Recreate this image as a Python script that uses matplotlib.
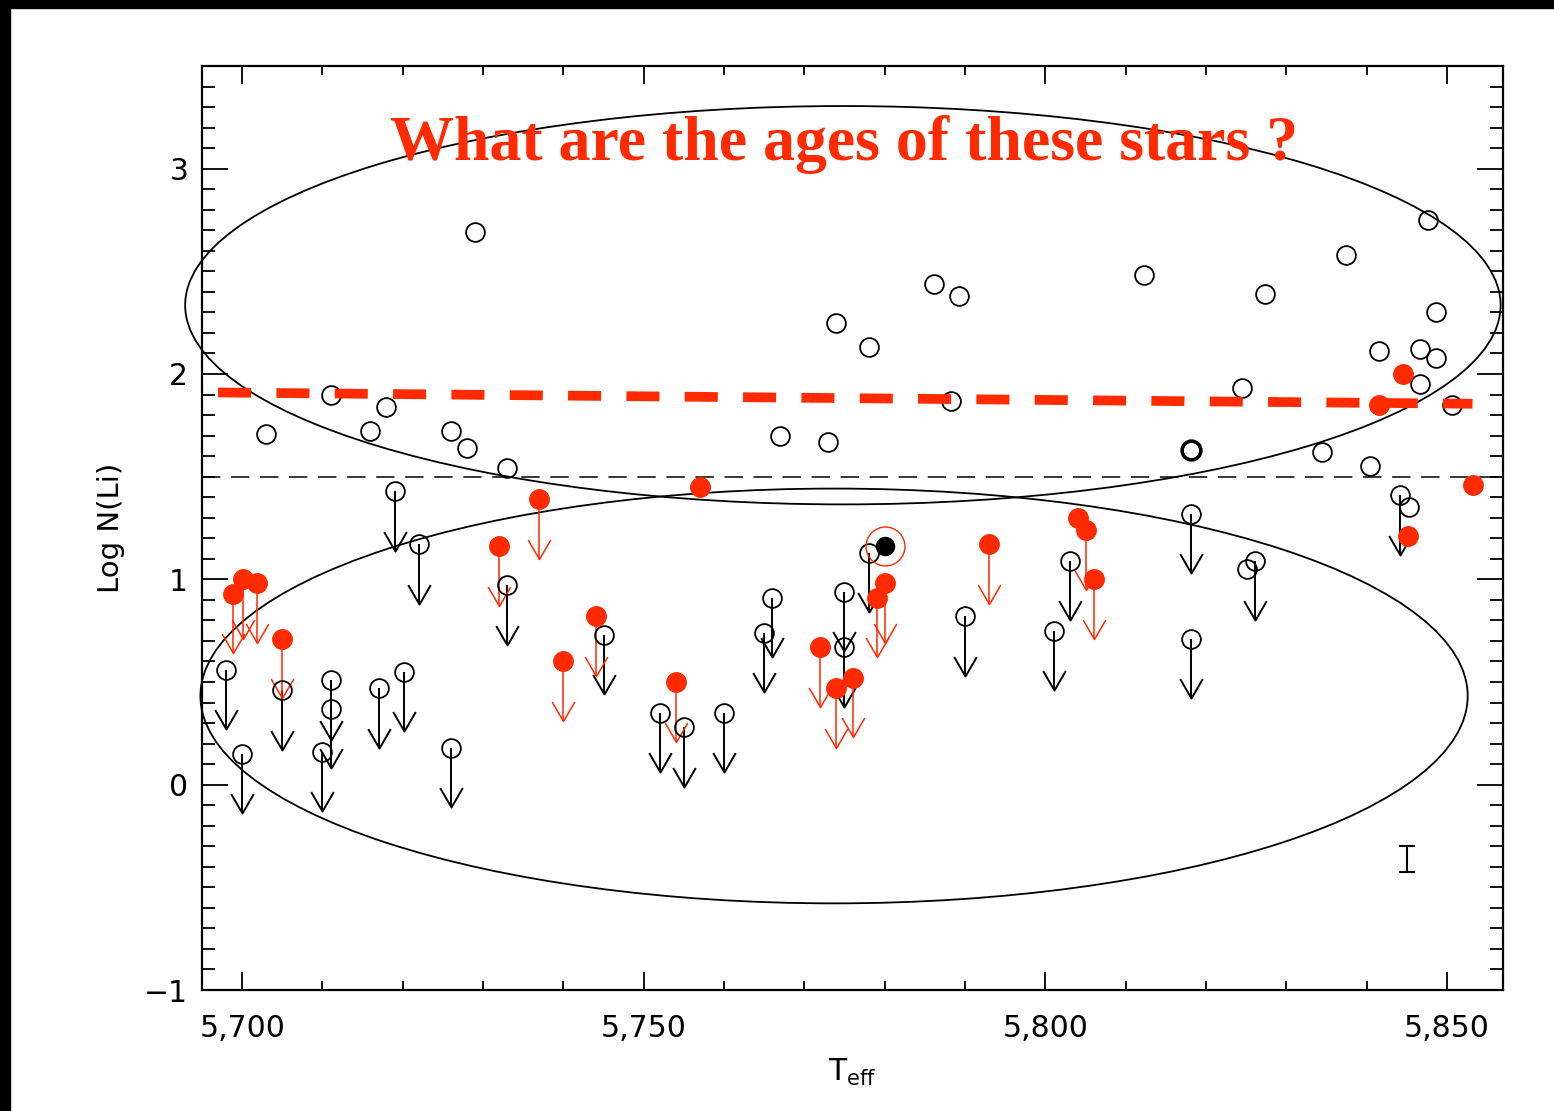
import matplotlib
matplotlib.use("Agg")
import matplotlib.pyplot as plt
from matplotlib.patches import Ellipse, Rectangle
from matplotlib.path import Path
from matplotlib.ticker import MultipleLocator, FuncFormatter

RED = "#ff2a00"

# lithium detections (open circles)
teff_det = [5711.0, 5703.0, 5715.9, 5717.9, 5726.0, 5728.0, 5733.0, 5729.0,
            5767.0, 5773.0, 5774.0, 5778.0, 5786.2, 5789.2, 5788.2, 5812.3,
            5827.4, 5824.5, 5834.4, 5840.4, 5837.5, 5847.7, 5848.7, 5841.6,
            5846.6, 5848.7, 5846.6, 5850.7, 5845.3, 5825.1]
li_det = [1.90, 1.71, 1.72, 1.84, 1.72, 1.64, 1.54, 2.69,
          1.70, 1.67, 2.25, 2.13, 2.44, 2.38, 1.87, 2.48,
          2.39, 1.93, 1.62, 1.55, 2.58, 2.75, 2.30, 2.11,
          2.12, 2.08, 1.95, 1.85, 1.35, 1.05]

# star with repeated measurement (bold circle)
teff_bold = [5818.2]
li_bold = [1.63]

# upper limits (open circles with arrows)
teff_ul = [5719.0, 5722.0, 5733.0, 5705.0, 5698.0, 5700.0, 5711.0, 5711.0,
           5717.0, 5720.1, 5710.0, 5726.0, 5745.0, 5778.0, 5775.0, 5775.0,
           5766.0, 5765.0, 5752.0, 5755.0, 5760.0, 5790.0, 5844.2, 5803.1,
           5801.1, 5818.1, 5818.1, 5826.1]
li_ul = [1.43, 1.17, 0.97, 0.46, 0.56, 0.15, 0.51, 0.37,
         0.47, 0.55, 0.16, 0.18, 0.73, 1.13, 0.94, 0.67,
         0.91, 0.74, 0.35, 0.28, 0.35, 0.82, 1.41, 1.09,
         0.75, 1.32, 0.71, 1.09]

# planet hosts: detections
teff_host = [5757.0, 5853.3, 5844.6, 5841.6, 5845.2, 5804.1]
li_host = [1.45, 1.46, 2.00, 1.85, 1.21, 1.30]

# planet hosts: upper limits
teff_host_ul = [5737.0, 5732.0, 5698.9, 5700.1, 5701.9, 5705.0, 5740.0, 5744.1,
                5780.0, 5779.0, 5772.0, 5774.0, 5776.0, 5754.0, 5793.0, 5805.1,
                5806.1]
li_host_ul = [1.39, 1.16, 0.93, 1.00, 0.98, 0.71, 0.60, 0.82,
              0.98, 0.91, 0.67, 0.47, 0.52, 0.50, 1.17, 1.24,
              1.00]

# the Sun
teff_sun = [5780.0]
li_sun = [1.16]

# typical error
err_teff = [5845.1]
err_li = [-0.36]
err_size = [0.063]

# depletion trend and plateau
trend_teff = [5697.0, 5853.2]
trend_li = [1.91, 1.855]
li_cut = 1.5

# groups: (centre teff, centre li, full width, full height)
group_high = (5774.8, 2.335, 163.8, 1.94)
group_low = (5773.7, 0.432, 157.8, 2.02)

ARROW = 0.29

vhead = Path([(-0.58, 1.0), (0.0, 0.0), (0.58, 1.0)],
             [Path.MOVETO, Path.LINETO, Path.LINETO])

fig = plt.figure(figsize=(15.54, 11.11), dpi=100)
fig.patches.append(Rectangle((0, 0), 10 / 1554, 1, transform=fig.transFigure,
                             color="black", zorder=0))
fig.patches.append(Rectangle((0, 1 - 8 / 1111), 1, 8 / 1111, transform=fig.transFigure,
                             color="black", zorder=0))

ax = fig.add_axes([0.130, 0.1089, 0.8372, 0.8317])


def upper_limits(x, y, color, lw):
    tips = [v - ARROW for v in y]
    ax.vlines(x, tips, y, colors=color, lw=lw, zorder=2)
    ax.plot(x, tips, ls="none", marker=vhead, ms=28, mfc="none",
            mec=color, mew=lw, zorder=2)


for cx, cy, w, h in (group_high, group_low):
    ax.add_patch(Ellipse((cx, cy), w, h, fill=False, ec="black", lw=1.3,
                         clip_on=False, zorder=1))

ax.axhline(li_cut, color="black", lw=1.1, dashes=(12, 7), zorder=1)
ax.plot(trend_teff, trend_li, color=RED, lw=7, dashes=(3.4, 2.6), zorder=5)

upper_limits(teff_ul, li_ul, "black", 1.4)
upper_limits(teff_host_ul, li_host_ul, RED, 1.1)

ax.plot(teff_det + teff_ul, li_det + li_ul, "o", ms=13.5, mfc="none",
        mec="black", mew=1.3, zorder=3)
ax.plot(teff_bold, li_bold, "o", ms=13.5, mfc="none", mec="black", mew=2.6, zorder=3)
ax.plot(teff_host + teff_host_ul, li_host + li_host_ul, "o", ms=14,
        color=RED, mec=RED, zorder=4)
ax.plot(teff_sun, li_sun, "o", ms=13, color="black", zorder=4)
ax.plot(teff_sun, li_sun, "o", ms=28, mfc="none", mec=RED, mew=1.0, zorder=4)

ax.errorbar(err_teff, err_li, yerr=err_size, fmt="none", ecolor="black",
            elinewidth=1.5, capsize=6, capthick=1.5)

ax.text(5775, 3.04, "What are the ages of these stars ?", color=RED,
        fontsize=46, fontweight="bold", family="Liberation Serif",
        ha="center", va="baseline", zorder=6)

ax.set_xlim(5695, 5857)
ax.set_ylim(-1, 3.5)
ax.xaxis.set_major_locator(MultipleLocator(50))
ax.xaxis.set_minor_locator(MultipleLocator(10))
ax.yaxis.set_major_locator(MultipleLocator(1))
ax.yaxis.set_minor_locator(MultipleLocator(0.1))
ax.xaxis.set_major_formatter(FuncFormatter(lambda v, p: f"{v:,.0f}"))

ax.tick_params(which="both", direction="in", top=True, right=True, width=1.3,
               labelsize=21.5)
ax.tick_params(axis="x", which="major", length=13, pad=17)
ax.tick_params(axis="x", which="minor", length=6.5)
ax.tick_params(axis="y", which="major", length=19, pad=10)
ax.tick_params(axis="y", which="minor", length=9.5)
for s in ax.spines.values():
    s.set_linewidth(1.6)

ax.set_xlabel(r"T$_{\rm eff}$", fontsize=21.5)
ax.set_ylabel("Log N(Li)", fontsize=21)
ax.xaxis.set_label_coords(0.5, -0.072)
ax.yaxis.set_label_coords(-0.059, 0.5)

fig.savefig("out.png", dpi=100)
